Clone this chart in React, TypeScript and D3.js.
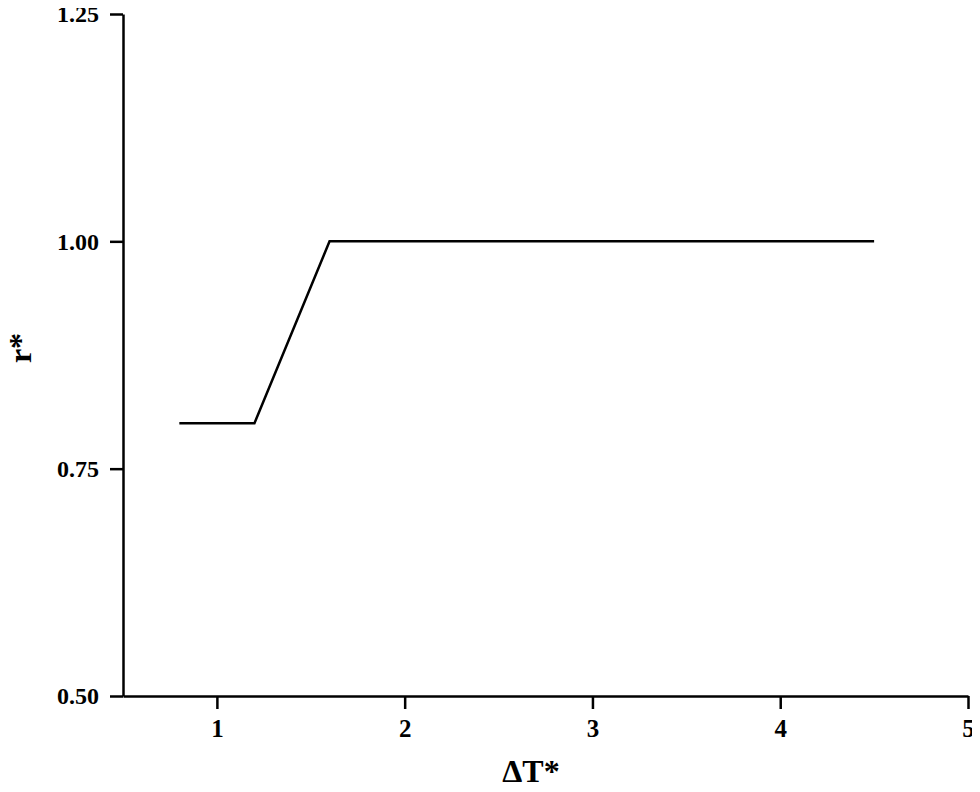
import React, { useEffect, useRef } from 'react'
import * as d3 from 'd3'

// values
const deltaT = [0.8, 1.2, 1.6, 4.5]
const rStar = [0.8, 0.8, 1.0, 1.0]
const xTicks = [1, 2, 3, 4, 5]
const yTicks = [0.5, 0.75, 1.0, 1.25]

const W = 980
const H = 792

export default function App() {
  const svgRef = useRef<SVGSVGElement>(null)

  useEffect(() => {
    const svg = d3.select(svgRef.current)
    svg.selectAll('*').remove()

    const x = d3.scaleLinear().domain([0.5, 5]).range([123, 968])
    const y = d3.scaleLinear().domain([0.5, 1.25]).range([696, 14])

    const font = '"Liberation Serif", "Times New Roman", serif'

    // x axis
    const xAxis = d3.axisBottom(x)
      .tickValues(xTicks)
      .tickFormat(d3.format('d'))
      .tickSizeInner(13)
      .tickSizeOuter(0)
      .tickPadding(10)
    const gx = svg.append('g')
      .attr('transform', `translate(0, ${y(0.5)})`)
      .call(xAxis)
    gx.select('.domain').attr('stroke', '#000').attr('stroke-width', 2.5)
    gx.selectAll('.tick line').attr('stroke', '#000').attr('stroke-width', 2.5)
    gx.selectAll('.tick text')
      .attr('fill', '#000')
      .style('font-family', font)
      .style('font-weight', 'bold')
      .style('font-size', '25px')

    // y axis
    const yAxis = d3.axisLeft(y)
      .tickValues(yTicks)
      .tickFormat(d3.format('.2f'))
      .tickSizeInner(13)
      .tickSizeOuter(0)
      .tickPadding(11)
    const gy = svg.append('g')
      .attr('transform', `translate(${x(0.5)}, 0)`)
      .call(yAxis)
    gy.select('.domain').attr('stroke', '#000').attr('stroke-width', 2.5)
    gy.selectAll('.tick line').attr('stroke', '#000').attr('stroke-width', 2.5)
    gy.selectAll('.tick text')
      .attr('fill', '#000')
      .style('font-family', font)
      .style('font-weight', 'bold')
      .style('font-size', '24px')

    // the curve
    const line = d3.line<number>()
      .x((d, i) => x(deltaT[i]))
      .y((d) => y(d))
    svg.append('path')
      .datum(rStar)
      .attr('d', line)
      .attr('fill', 'none')
      .attr('stroke', '#000')
      .attr('stroke-width', 2.5)

    // axis titles
    svg.append('text')
      .attr('x', 531)
      .attr('y', 782)
      .attr('text-anchor', 'middle')
      .style('font-family', font)
      .style('font-weight', 'bold')
      .style('font-size', '32px')
      .text('ΔT*')

    svg.append('text')
      .attr('transform', `translate(31, 348) rotate(-90)`)
      .attr('text-anchor', 'middle')
      .style('font-family', font)
      .style('font-weight', 'bold')
      .style('font-size', '32px')
      .text('r*')
  }, [])

  return (
    <div style={{ margin: -8 }}>
      <svg ref={svgRef} width={W} height={H} style={{ display: 'block', background: '#fff' }} />
    </div>
  )
}
